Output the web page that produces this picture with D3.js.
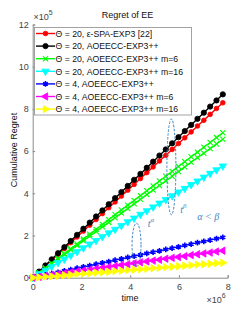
<!DOCTYPE html>
<html>
<head>
<meta charset="utf-8">
<script src="https://cdn.jsdelivr.net/npm/d3@7"></script>
<style>
  html, body { margin: 0; padding: 0; background: #fff; }
  svg { display: block; font-family: "Liberation Sans", Arial, sans-serif; }
</style>
</head>
<body>
<div id="chart"></div>
<script>
/* time axis, in units of 1e6 */
const times = [0, 0.26, 0.52, 0.78, 1.04, 1.3, 1.56, 1.82, 2.08, 2.34, 2.6, 2.86, 3.12, 3.38, 3.64, 3.9,
  4.16, 4.42, 4.68, 4.94, 5.2, 5.46, 5.72, 5.98, 6.24, 6.5, 6.76, 7.02, 7.28, 7.54, 7.8];

/* cumulative regret, in units of 1e5 */
const redSpa = [0, 0.28, 0.55, 0.83, 1.11, 1.38, 1.66, 1.93, 2.21, 2.49, 2.76, 3.04, 3.32, 3.59, 3.87, 4.15,
  4.42, 4.70, 4.98, 5.25, 5.53, 5.80, 6.08, 6.36, 6.63, 6.91, 7.19, 7.46, 7.74, 8.02, 8.29];
const blackAoe20 = [0, 0.29, 0.58, 0.87, 1.16, 1.45, 1.74, 2.03, 2.32, 2.61, 2.90, 3.19, 3.48, 3.77, 4.06, 4.35,
  4.64, 4.92, 5.21, 5.50, 5.79, 6.08, 6.37, 6.66, 6.95, 7.24, 7.53, 7.82, 8.11, 8.40, 8.69];
const greenM6 = [0, 0.23, 0.46, 0.69, 0.92, 1.15, 1.37, 1.60, 1.83, 2.06, 2.29, 2.52, 2.75, 2.98, 3.21, 3.44,
  3.66, 3.89, 4.12, 4.35, 4.58, 4.81, 5.04, 5.27, 5.50, 5.73, 5.95, 6.18, 6.41, 6.64, 6.87];
const greenM6b = [0, 0.22, 0.44, 0.66, 0.87, 1.09, 1.31, 1.53, 1.75, 1.97, 2.19, 2.41, 2.62, 2.84, 3.06, 3.28,
  3.50, 3.72, 3.94, 4.15, 4.37, 4.59, 4.81, 5.03, 5.25, 5.47, 5.69, 5.90, 6.12, 6.34, 6.56];
const cyanM16 = [0, 0.18, 0.35, 0.53, 0.71, 0.88, 1.06, 1.23, 1.41, 1.59, 1.76, 1.94, 2.12, 2.29, 2.47, 2.65,
  2.82, 3.00, 3.17, 3.35, 3.53, 3.70, 3.88, 4.06, 4.23, 4.41, 4.58, 4.76, 4.94, 5.11, 5.29];
const blueAoe4 = [0, 0.06, 0.13, 0.19, 0.25, 0.32, 0.38, 0.45, 0.51, 0.57, 0.64, 0.70, 0.76, 0.83, 0.89, 0.96,
  1.02, 1.08, 1.15, 1.21, 1.27, 1.34, 1.40, 1.46, 1.53, 1.59, 1.66, 1.72, 1.78, 1.85, 1.91];
const magentaM6 = [0, 0.04, 0.09, 0.13, 0.17, 0.21, 0.26, 0.30, 0.34, 0.38, 0.43, 0.47, 0.51, 0.55, 0.60, 0.64,
  0.68, 0.73, 0.77, 0.81, 0.85, 0.90, 0.94, 0.98, 1.02, 1.07, 1.11, 1.15, 1.19, 1.24, 1.28];
const yellowM16 = [0, 0.02, 0.05, 0.07, 0.09, 0.12, 0.14, 0.17, 0.19, 0.21, 0.24, 0.26, 0.28, 0.31, 0.33, 0.36,
  0.38, 0.40, 0.43, 0.45, 0.47, 0.50, 0.52, 0.54, 0.57, 0.59, 0.62, 0.64, 0.66, 0.69, 0.71];

const xTicks = [0, 2, 4, 6, 8];
const yTicks = [0, 2, 4, 6, 8, 10, 12];

/* annotation ellipses: centre (time, regret), half-height in regret units */
const ellipses = [
  { t: 5.69, r: 5.25, halfR: 2.27, label: "β", lt: 6.05, lr: 3.05 },
  { t: 4.26, r: 1.55, halfR: 1.03, label: "α", lt: 4.72, lr: 2.4 }
];

const series = [
  { name: "Θ = 20, ε-SPA-EXP3 [22]", color: "#ff0000", values: redSpa, sym: "circle", size: 14, legend: true },
  { name: "Θ = 20, AOEECC-EXP3++", color: "#000000", values: blackAoe20, sym: "circle", size: 18, legend: true },
  { name: "Θ = 20, AOEECC-EXP3++ m=6", color: "#00ff00", values: greenM6, sym: "x", size: 16, legend: true },
  { name: "", color: "#00ff00", values: greenM6b, sym: "x", size: 16, legend: false },
  { name: "Θ = 20, AOEECC-EXP3++ m=16", color: "#00ffff", values: cyanM16, sym: "down", size: 17, legend: true },
  { name: "Θ = 4, AOEECC-EXP3++", color: "#0000ff", values: blueAoe4, sym: "star", size: 18, legend: true },
  { name: "Θ = 4, AOEECC-EXP3++ m=6", color: "#ff00ff", values: magentaM6, sym: "left", size: 17, legend: true },
  { name: "Θ = 4, AOEECC-EXP3++ m=16", color: "#ffff00", values: yellowM16, sym: "right", size: 17, legend: true }
];

const W = 252, H = 312;
const plot = { left: 32.7, right: 227.7, top: 24.5, bottom: 277.7 };
const axisColor = "#8a8a8a", textColor = "#444";

const svg = d3.select("#chart").append("svg").attr("width", W).attr("height", H);

const x = d3.scaleLinear().domain([0, 8]).range([plot.left, plot.right]);
const y = d3.scaleLinear().domain([0, 12]).range([plot.bottom, plot.top]);

/* Axes (box off, ticks inward) */
svg.append("g")
  .attr("transform", `translate(0,${plot.bottom})`)
  .call(d3.axisBottom(x).tickValues(xTicks).tickSize(-2.5).tickPadding(6).tickFormat(d3.format("d")))
  .call(g => g.select(".domain").attr("stroke", axisColor))
  .call(g => g.selectAll("line").attr("stroke", axisColor))
  .call(g => g.selectAll("text").attr("fill", textColor).style("font-size", "9px")
    .style("font-family", "Liberation Sans, Arial, sans-serif"));

svg.append("g")
  .attr("transform", `translate(${plot.left},0)`)
  .call(d3.axisLeft(y).tickValues(yTicks).tickSize(-2.5).tickPadding(4).tickFormat(d3.format("d")))
  .call(g => g.select(".domain").attr("stroke", axisColor))
  .call(g => g.selectAll("line").attr("stroke", axisColor))
  .call(g => g.selectAll("text").attr("fill", textColor).style("font-size", "9px")
    .style("font-family", "Liberation Sans, Arial, sans-serif"));

/* Labels */
svg.append("text").attr("x", 127.5).attr("y", 18).attr("text-anchor", "middle")
  .attr("fill", "#111").style("font-size", "9px").text("Regret of EE");

svg.append("text").attr("x", 130).attr("y", 301).attr("text-anchor", "middle")
  .attr("fill", "#111").style("font-size", "9px").text("time");

svg.append("text").attr("transform", "rotate(-90)").attr("x", -150).attr("y", 16.5)
  .attr("text-anchor", "middle").attr("fill", "#111").style("font-size", "9px").text("Cumulative Regret");

const exp5 = svg.append("text").attr("x", 33.5).attr("y", 20).attr("fill", textColor).style("font-size", "9px");
exp5.append("tspan").text("×10");
exp5.append("tspan").attr("dy", -5).style("font-size", "7px").text("5");

const exp6 = svg.append("text").attr("x", 206.5).attr("y", 303).attr("fill", textColor).style("font-size", "9px");
exp6.append("tspan").text("×10");
exp6.append("tspan").attr("dy", -5).style("font-size", "7px").text("6");

/* Markers */
function drawMarker(sel, s) {
  const r = Math.sqrt(s.size) / 1.6;
  if (s.sym === "circle") {
    sel.append("circle").attr("r", r).attr("fill", s.color).attr("stroke", s.color).attr("stroke-width", 0.8);
  } else if (s.sym === "x") {
    sel.append("path").attr("d", d3.symbol(d3.symbolTimes, s.size * 1.2)())
      .attr("fill", "none").attr("stroke", s.color).attr("stroke-width", 1.1);
  } else if (s.sym === "star") {
    sel.append("path").attr("d", d3.symbol(d3.symbolAsterisk, s.size * 1.3)())
      .attr("fill", "none").attr("stroke", s.color).attr("stroke-width", 1.6);
  } else {
    const rot = { down: 180, left: -90, right: 90 }[s.sym];
    sel.append("path").attr("d", d3.symbol(d3.symbolTriangle, s.size * 1.4)())
      .attr("transform", `rotate(${rot})`)
      .attr("fill", s.color).attr("stroke", s.color).attr("stroke-width", 0.8);
  }
}

const line = d3.line().x(d => x(d.t)).y(d => y(d.v));

series.forEach(s => {
  const data = times.map((t, i) => ({ t, v: s.values[i] }));
  svg.append("path").datum(data)
    .attr("fill", "none").attr("stroke", s.color).attr("stroke-width", 1.4).attr("d", line);
  svg.append("g").selectAll("g").data(data).join("g")
    .attr("transform", d => `translate(${x(d.t)},${y(d.v)})`)
    .each(function () { drawMarker(d3.select(this), s); });
});

/* Annotations */
const annColor = "#3f86c4";
ellipses.forEach(e => {
  svg.append("ellipse")
    .attr("cx", x(e.t)).attr("cy", y(e.r))
    .attr("rx", 4.5).attr("ry", y(0) - y(e.halfR))
    .attr("fill", "none").attr("stroke", annColor).attr("stroke-width", 1)
    .attr("stroke-dasharray", "2.5,1.5");
  const lbl = svg.append("text").attr("x", x(e.lt)).attr("y", y(e.lr))
    .attr("fill", annColor).style("font-family", "Liberation Serif, serif")
    .style("font-style", "italic").style("font-size", "10px");
  lbl.append("tspan").text("t");
  lbl.append("tspan").attr("dy", -5).style("font-size", "7px").text(e.label);
});

svg.append("text").attr("x", x(7.2)).attr("y", y(2.75)).attr("text-anchor", "middle")
  .attr("fill", annColor).style("font-family", "Liberation Serif, serif")
  .style("font-style", "italic").style("font-size", "10px").text("α < β");

/* Legend */
const legend = svg.append("g");
legend.append("rect").attr("x", 34.5).attr("y", 27.5).attr("width", 157).attr("height", 87.5)
  .attr("fill", "#fff").attr("stroke", "#8c8c8c").attr("stroke-width", 0.8);

series.filter(s => s.legend).forEach((s, i) => {
  const ry = 33.5 + i * 12.6;
  const row = legend.append("g").attr("transform", `translate(0,${ry})`);
  row.append("line").attr("x1", 36).attr("x2", 55).attr("stroke", s.color).attr("stroke-width", 1.4);
  drawMarker(row.append("g").attr("transform", "translate(45.5,0)"), s);
  row.append("text").attr("x", 55.5).attr("y", 3.2).attr("fill", "#111")
    .style("font-size", "8.7px").text(s.name);
});
</script>
</body>
</html>
